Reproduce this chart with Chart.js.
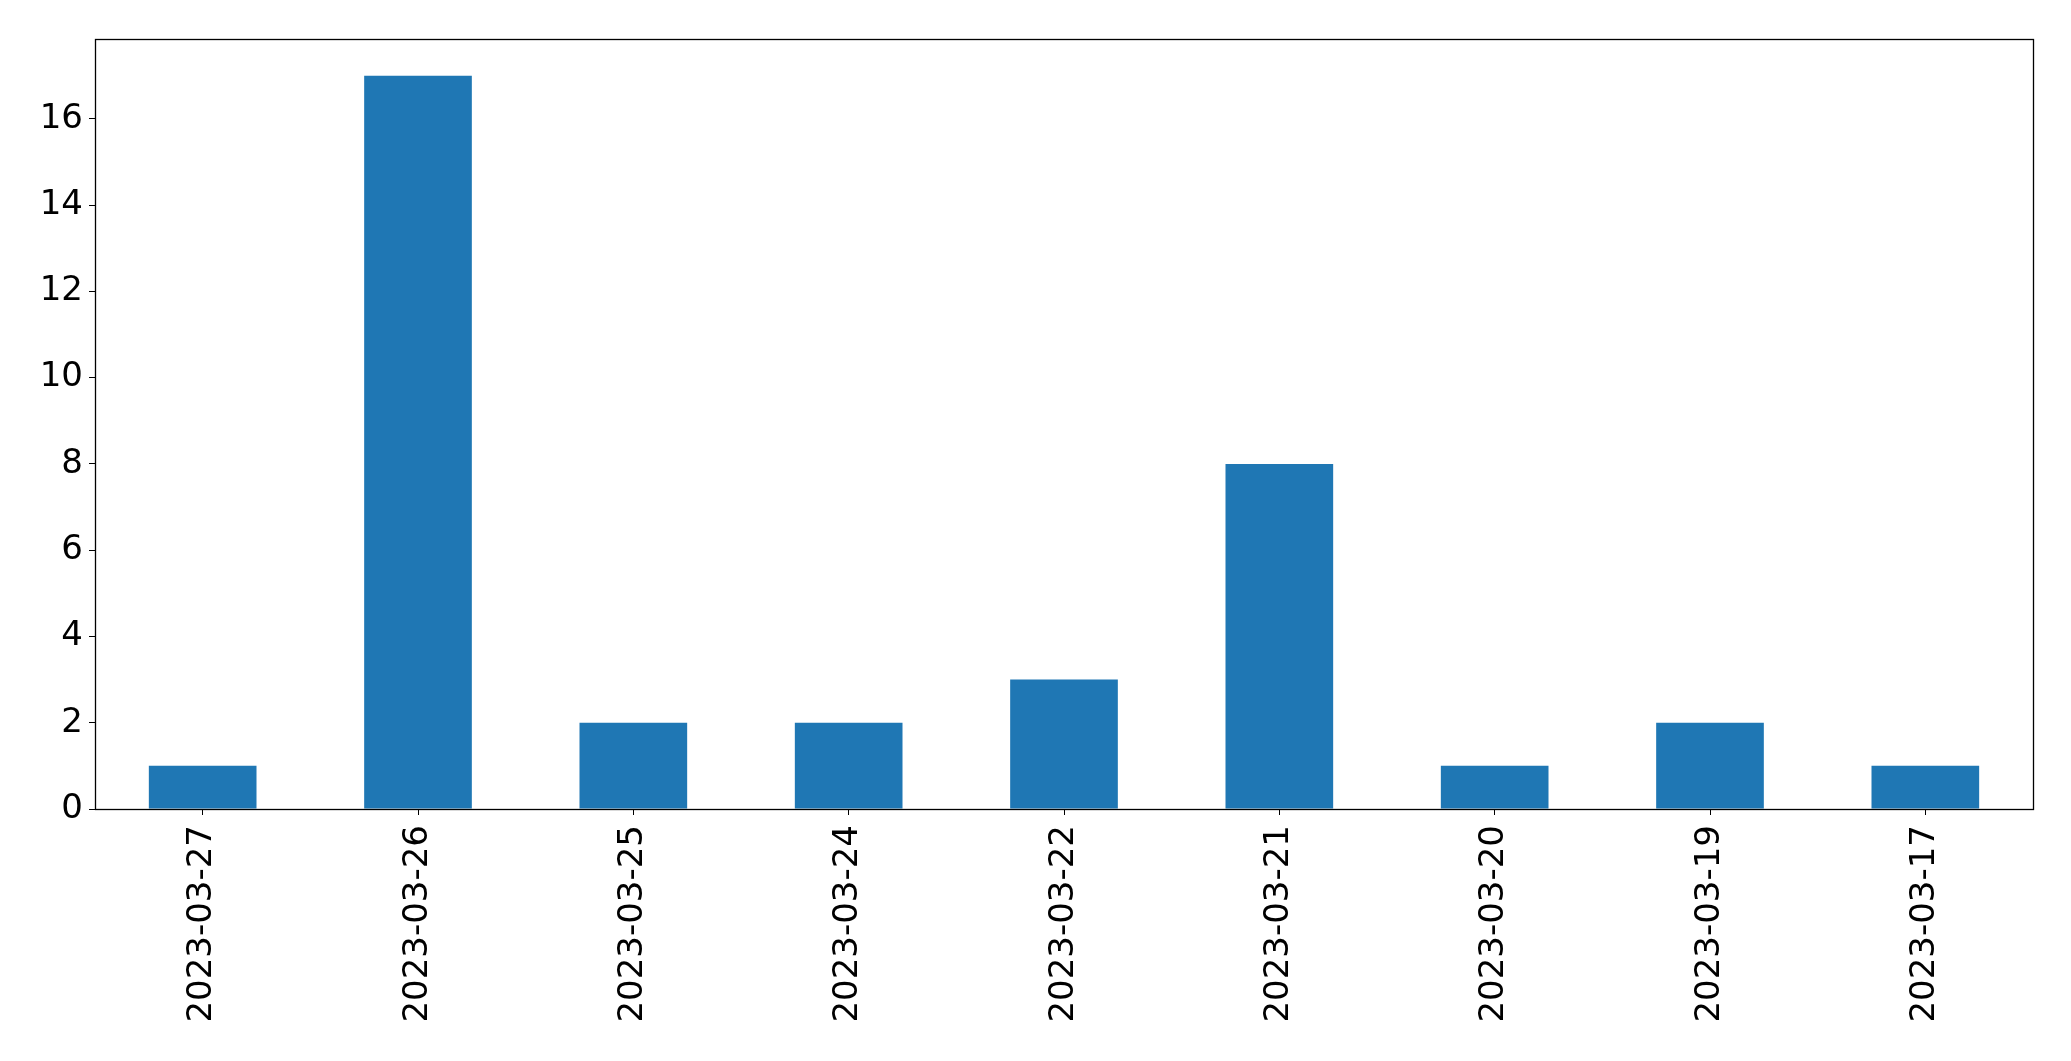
<!DOCTYPE html>
<html>
<head>
<meta charset="utf-8">
<script src="https://cdn.jsdelivr.net/npm/chart.js@4.4.0/dist/chart.umd.min.js"></script>
<style>
html,body{margin:0;padding:0;background:#fff;}
#wrap{width:2071px;height:1061px;position:relative;}
</style>
</head>
<body>
<div id="wrap"><canvas id="c" width="2071" height="1061"></canvas></div>
<script>
const categories = ["2023-03-27","2023-03-26","2023-03-25","2023-03-24","2023-03-22","2023-03-21","2023-03-20","2023-03-19","2023-03-17"];
const counts = [1, 17, 2, 2, 3, 8, 1, 2, 1];
const yTicks = [0, 2, 4, 6, 8, 10, 12, 14, 16];

const framePlugin = {
  id: 'frame',
  afterDatasetsDraw(chart) {
    const a = chart.chartArea, ctx = chart.ctx;
    ctx.save();
    ctx.strokeStyle = '#000';
    ctx.lineWidth = 1.3;
    ctx.strokeRect(Math.round(a.left) + 0.5, Math.round(a.top) + 0.5, Math.round(a.right - a.left), Math.round(a.bottom - a.top));
    ctx.restore();
  }
};

new Chart(document.getElementById('c'), {
  type: 'bar',
  data: {
    labels: categories,
    datasets: [{
      data: counts,
      backgroundColor: '#1f77b4',
      borderWidth: 0,
      barPercentage: 0.5,
      categoryPercentage: 1.0
    }]
  },
  options: {
    responsive: false,
    animation: false,
    devicePixelRatio: 1,
    layout: { padding: { left: 0, top: 39, right: 38, bottom: 0 } },
    plugins: { legend: { display: false }, tooltip: { enabled: false } },
    scales: {
      x: {
        offset: true,
        grid: { display: true, drawOnChartArea: false, drawTicks: true, tickLength: 6, color: '#000', offset: false },
        border: { display: true, color: '#000', width: 1 },
        ticks: {
          color: '#000',
          font: { family: 'DejaVu Sans', size: 34 },
          maxRotation: 90, minRotation: 90,
          padding: 10,
          autoSkip: false
        },
        afterFit(scale) { scale.height = 252; }
      },
      y: {
        min: 0,
        max: 17.85,
        grid: { display: true, drawOnChartArea: false, drawTicks: true, tickLength: 6, color: '#000' },
        border: { display: true, color: '#000', width: 1 },
        afterBuildTicks(scale) { scale.ticks = yTicks.map(v => ({ value: v })); },
        ticks: {
          color: '#000',
          font: { family: 'DejaVu Sans', size: 34 },
          padding: 6
        },
        afterFit(scale) { scale.width = 95; }
      }
    }
  },
  plugins: [framePlugin]
});
</script>
</body>
</html>
